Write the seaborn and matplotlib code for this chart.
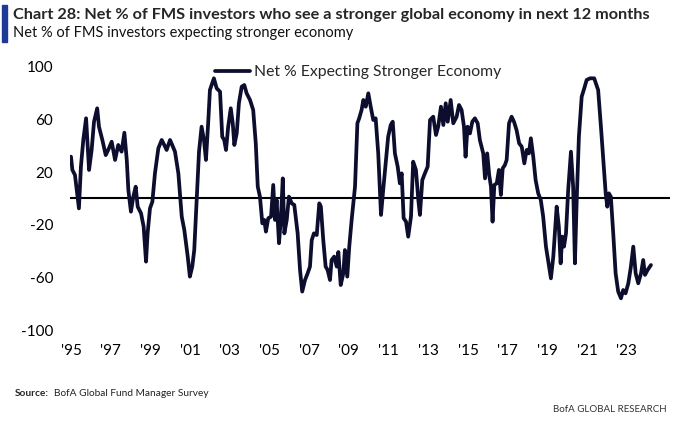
import matplotlib
matplotlib.use("Agg")
import matplotlib.pyplot as plt
import seaborn as sns
import pandas as pd
from matplotlib.patches import Rectangle

# ---- data ----
years = [
    1995.00, 1995.07, 1995.20, 1995.40, 1995.50, 1995.62, 1995.76, 1995.91, 1996.04, 1996.16,
    1996.32, 1996.41, 1996.58, 1996.75, 1996.91, 1997.05, 1997.22, 1997.38, 1997.55, 1997.69,
    1997.81, 1997.89, 1998.02, 1998.14, 1998.26, 1998.36, 1998.53, 1998.66, 1998.78, 1998.86,
    1998.98, 1999.10, 1999.23, 1999.40, 1999.57, 1999.70, 1999.82, 1999.99, 2000.10, 2000.24,
    2000.41, 2000.58, 2000.71, 2000.88, 2000.99, 2001.11, 2001.21, 2001.33, 2001.45, 2001.58,
    2001.70, 2001.80, 2001.92, 2002.00, 2002.20, 2002.34, 2002.51, 2002.62, 2002.72, 2002.81,
    2002.92, 2003.05, 2003.15, 2003.23, 2003.35, 2003.46, 2003.60, 2003.73, 2003.85, 2004.02,
    2004.18, 2004.31, 2004.41, 2004.52, 2004.64, 2004.74, 2004.82, 2004.94, 2005.08, 2005.19,
    2005.28, 2005.36, 2005.48, 2005.58, 2005.67, 2005.75, 2005.87, 2005.98, 2006.12, 2006.25,
    2006.42, 2006.54, 2006.65, 2006.79, 2006.92, 2007.04, 2007.13, 2007.24, 2007.38, 2007.51,
    2007.59, 2007.71, 2007.83, 2007.93, 2008.05, 2008.13, 2008.26, 2008.39, 2008.47, 2008.59,
    2008.72, 2008.80, 2008.92, 2009.02, 2009.14, 2009.31, 2009.43, 2009.52, 2009.64, 2009.73,
    2009.85, 2009.98, 2010.10, 2010.23, 2010.35, 2010.48, 2010.62, 2010.73, 2010.87, 2010.98,
    2011.11, 2011.21, 2011.32, 2011.46, 2011.57, 2011.66, 2011.76, 2011.88, 2011.99, 2012.13,
    2012.24, 2012.38, 2012.50, 2012.58, 2012.70, 2012.83, 2012.97, 2013.09, 2013.25, 2013.39,
    2013.50, 2013.64, 2013.76, 2013.88, 2013.98, 2014.13, 2014.26, 2014.43, 2014.55, 2014.68,
    2014.80, 2014.88, 2014.98, 2015.10, 2015.22, 2015.35, 2015.49, 2015.60, 2015.77, 2015.86,
    2015.97, 2016.07, 2016.16, 2016.24, 2016.33, 2016.45, 2016.56, 2016.66, 2016.75, 2016.86,
    2016.95, 2017.07, 2017.20, 2017.32, 2017.45, 2017.58, 2017.71, 2017.84, 2017.96, 2018.07,
    2018.17, 2018.29, 2018.41, 2018.54, 2018.67, 2018.79, 2018.93, 2019.18, 2019.30, 2019.47,
    2019.58, 2019.67, 2019.75, 2019.84, 2019.94, 2020.05, 2020.19, 2020.30, 2020.39, 2020.48,
    2020.59, 2020.73, 2020.86, 2020.98, 2021.15, 2021.36, 2021.56, 2021.70, 2021.82, 2021.94,
    2022.02, 2022.10, 2022.20, 2022.32, 2022.44, 2022.57, 2022.71, 2022.82, 2022.94, 2023.08,
    2023.21, 2023.33, 2023.45, 2023.58, 2023.72, 2023.83, 2023.92, 2024.05, 2024.22,
]
net_pct = [
    31.8, 21.7, 17.9, -7.5, 24.2, 44.5, 61.0, 21.7, 36.9, 58.4,
    68.6, 54.6, 44.5, 33.0, 38.1, 43.2, 29.3, 40.7, 35.6, 50.0,
    29.3, 6.5, -10.0, 1.4, 9.0, -6.2, -11.3, -21.4, -48.0, -26.5,
    -7.5, -2.4, 19.1, 38.1, 44.5, 40.7, 36.9, 44.5, 40.7, 35.6,
    19.1, -13.8, -24.0, -44.0, -59.4, -51.8, -39.2, -1.0, 35.6, 54.6,
    44.5, 29.3, 59.7, 82.5, 91.4, 83.8, 81.2, 47.0, 44.5, 36.9,
    54.6, 68.6, 57.2, 40.7, 49.5, 72.4, 85.0, 86.3, 80.0, 74.9,
    67.3, 41.9, 9.0, 1.4, -18.9, -16.3, -25.2, -15.0, -13.8, 10.3,
    -16.3, -1.1, -34.0, -13.8, 15.3, -26.5, -16.3, 1.4, -3.7, -4.9,
    -26.5, -54.4, -70.8, -62.0, -57.0, -51.8, -31.6, -26.5, -27.8, -3.7,
    -6.2, -31.6, -51.8, -54.4, -62.0, -46.8, -44.2, -51.8, -40.7, -65.8,
    -57.0, -39.2, -59.4, -36.6, -16.3, 9.0, 57.2, 61.0, 67.3, 74.9,
    69.8, 80.0, 69.8, 59.7, 61.0, 34.3, -12.5, 6.5, 29.3, 47.0,
    55.9, 58.4, 34.3, 24.2, 11.5, 19.1, -15.0, -17.6, -29.0, -13.8,
    28.0, 21.7, -1.1, -12.5, 14.0, 19.1, 24.2, 59.7, 62.2, 48.3,
    54.6, 69.8, 55.9, 72.4, 58.4, 74.9, 57.2, 62.2, 71.1, 67.3,
    54.6, 31.8, 54.6, 49.5, 58.4, 61.0, 57.2, 44.5, 34.3, 15.3,
    34.3, 17.9, 9.0, -17.6, 10.3, 11.5, 21.7, 2.7, 22.9, 25.4,
    29.3, 57.2, 62.2, 58.4, 52.0, 41.9, 39.4, 26.7, 36.9, 34.3,
    45.8, 31.8, 14.0, 3.9, -1.1, -13.8, -36.6, -60.7, -44.2, -6.2,
    -21.4, -49.3, -29.0, -36.6, -26.5, 6.5, 35.6, 9.0, -49.3, -1.1,
    47.0, 77.4, 83.8, 90.1, 91.4, 91.4, 82.5, 54.6, 29.3, 3.9,
    -6.2, 3.9, 1.4, -26.5, -56.9, -70.8, -75.9, -69.6, -72.1, -64.5,
    -51.8, -36.6, -56.9, -64.5, -56.9, -46.8, -58.1, -54.4, -50.6,
]
series_name = "Net % Expecting Stronger Economy"
y_ticks = [-100, -60, -20, 20, 60, 100]
x_tick_years = [1995, 1997, 1999, 2001, 2003, 2005, 2007, 2009, 2011, 2013, 2015, 2017, 2019, 2021, 2023]
x_tick_labels = ["'95", "'97", "'99", "'01", "'03", "'05", "'07", "'09", "'11", "'13", "'15", "'17", "'19", "'21", "'23"]

title = "Chart 28: Net % of FMS investors who see a stronger global economy in next 12 months"
subtitle = "Net % of FMS investors expecting stronger economy"

df = pd.DataFrame({"year": years, "value": net_pct, "series": series_name})

sns.set_style("white")
plt.rcParams["font.family"] = ["Lato", "DejaVu Sans"]

W, H = 680, 421
fig = plt.figure(figsize=(W / 100, H / 100), dpi=100)
ax = fig.add_axes([70 / W, 1 - 330 / H, 600 / W, 263 / H])

ax.axhline(0, color="black", lw=1.5, zorder=1)
sns.lineplot(data=df, x="year", y="value", hue="series", palette=["#0d0d2e"],
             estimator=None, sort=False, lw=2.7, ax=ax, zorder=2)

ax.set_xlim(1994.95, 2025.18)
ax.set_ylim(-100, 100)
ax.set_yticks(y_ticks)
ax.set_yticklabels([str(v) for v in y_ticks])
ax.set_xticks(x_tick_years)
ax.set_xticklabels(x_tick_labels)
ax.tick_params(axis="y", length=0, pad=12, labelsize=11, colors="black")
ax.tick_params(axis="x", length=0, pad=10, labelsize=11, colors="black")
ax.set_xlabel("")
ax.set_ylabel("")
for s in ax.spines.values():
    s.set_visible(False)
ax.grid(False)

ax.legend(loc="center left", bbox_to_anchor=((215 - 70) / 600, (330 - 72) / 263),
          frameon=False, borderpad=0, borderaxespad=0, handlelength=2.2,
          handletextpad=0.3, fontsize=11.3)

# header
fig.patches.append(Rectangle((2 / W, 1 - 42 / H), 5 / W, 37 / H, transform=fig.transFigure,
                             color="#1f3a96", zorder=5))
fig.text(13 / W, 1 - 15 / H, title, fontsize=11.7, fontweight="bold", va="center", ha="left")
fig.text(13 / W, 1 - 33 / H, subtitle, fontsize=10.5, va="center", ha="left", color="#111111")

# footer
fig.text(15 / W, 1 - 393 / H, "Source:", fontsize=7.3, fontweight="bold", va="center", ha="left")
fig.text(54 / W, 1 - 393 / H, "BofA Global Fund Manager Survey", fontsize=7.3, va="center",
         ha="left", color="#222222")
fig.text(667 / W, 1 - 409 / H, "BofA GLOBAL RESEARCH", fontsize=7, va="center", ha="right",
         color="#333333")

fig.savefig("out.png", dpi=100)
